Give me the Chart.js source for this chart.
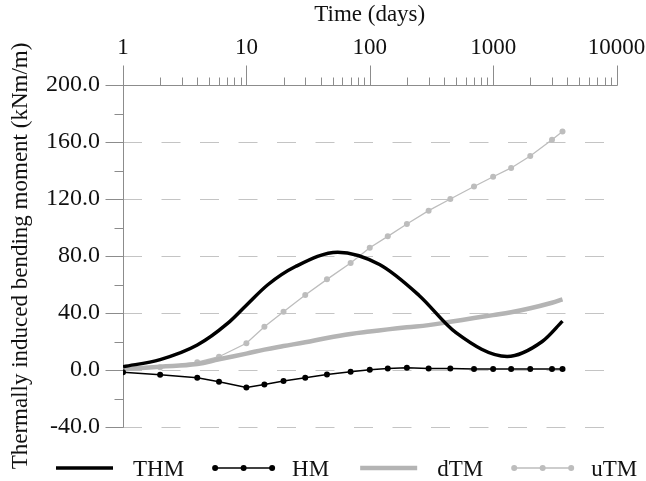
<!DOCTYPE html>
<html>
<head>
<meta charset="utf-8">
<script src="https://cdn.jsdelivr.net/npm/chart.js@4.4.0/dist/chart.umd.min.js"></script>
<style>
  html, body { margin: 0; padding: 0; background: #fff; overflow: hidden; }
  canvas { display: block; }
</style>
</head>
<body>
<canvas id="chart" width="646" height="481"></canvas>
<script>
// sample times (days) shared by the marked series
const days = [1, 2, 4, 6, 10, 14, 20, 30, 45, 70, 100, 140, 200, 300, 450, 700, 1000, 1400, 2000, 3000, 3650];
// THM is a smooth curve, read at its own times
const thmDays = [1, 2, 4, 7, 10, 15, 25, 55, 120, 250, 500, 1300, 2500, 3650];
const thm = [2.3, 7.3, 17.5, 32.5, 45.5, 60, 72.6, 82.7, 74, 52.5, 26.2, 9.5, 20, 34.3];
const hm = [-1.6, -3.3, -5.4, -8.2, -12.2, -10.1, -7.7, -5.4, -3.1, -1.2, 0.2, 1.0, 1.6, 1.1, 1.1, 0.7, 0.7, 0.7, 0.7, 0.7, 0.7];
const dtm = [0.7, 2.3, 4.2, 7.5, 11.5, 14.3, 16.8, 19.5, 22.5, 25.3, 27, 28.5, 30, 31.5, 33.8, 36.5, 38.5, 40.5, 43.3, 47.2, 49.5];
const utm = [0.5, 2, 5.5, 9.3, 18.8, 30.4, 40.9, 52.6, 63.6, 75.1, 85.8, 93.8, 102.5, 111.8, 120, 128.8, 135.6, 141.8, 150.2, 161.6, 167.4];

const seriesNames = ['THM', 'HM', 'dTM', 'uTM'];
const xTicks = [1, 10, 100, 1000, 10000];
const yTicks = [-40, 0, 40, 80, 120, 160, 200];

const FONT = '"Liberation Serif", "Times New Roman", serif';
const AXIS_GRAY = '#8c8c8c';

Chart.defaults.font.family = FONT;
Chart.defaults.font.size = 23;
Chart.defaults.color = '#111';

function pairs(xs, ys) {
    return xs.map((x, i) => ({ x: x, y: ys[i] }));
}

// axis lines plus long/short tick marks (the library only does one tick length)
const axisLines = {
    id: 'axisLines',
    beforeDatasetsDraw(chart) {
        const { ctx, chartArea: a, scales: { x, y } } = chart;
        const px = v => Math.round(v) + 0.5;
        const left = px(a.left);
        const top = px(y.getPixelForValue(yTicks[yTicks.length - 1]));
        ctx.save();
        ctx.strokeStyle = AXIS_GRAY;
        ctx.lineWidth = 1;
        ctx.beginPath();
        ctx.moveTo(left, top - 20);
        ctx.lineTo(left, px(a.bottom));
        ctx.moveTo(left, top);
        ctx.lineTo(px(a.right), top);

        for (let e = 0; e < 4; e++) {
            for (let s = 2; s <= 10; s++) {
                const xp = px(x.getPixelForValue(s * Math.pow(10, e)));
                ctx.moveTo(xp, top);
                ctx.lineTo(xp, top - (s === 10 ? 20 : 8));
            }
        }

        for (let i = 0; i < yTicks.length; i++) {
            const yp = px(y.getPixelForValue(yTicks[i]));
            ctx.moveTo(left - 18, yp);
            ctx.lineTo(left, yp);
            if (i < yTicks.length - 1) {
                const ym = px(y.getPixelForValue((yTicks[i] + yTicks[i + 1]) / 2));
                ctx.moveTo(left - 9, ym);
                ctx.lineTo(left, ym);
            }
        }
        ctx.stroke();
        ctx.restore();
    }
};

// legend with line + dot symbols
const lineLegend = {
    id: 'lineLegend',
    afterDraw(chart) {
        const ctx = chart.ctx;
        const yMid = 468;
        const symW = 57;
        let xPos = 56;
        ctx.save();
        ctx.font = '23px ' + FONT;
        ctx.textBaseline = 'alphabetic';
        chart.data.datasets.forEach(ds => {
            ctx.strokeStyle = ds.borderColor;
            ctx.lineWidth = ds.borderWidth;
            ctx.beginPath();
            ctx.moveTo(xPos, yMid);
            ctx.lineTo(xPos + symW, yMid);
            ctx.stroke();
            if (ds.pointRadius > 0) {
                ctx.fillStyle = ds.pointBackgroundColor;
                [0, 0.5, 1].forEach(f => {
                    ctx.beginPath();
                    ctx.arc(xPos + symW * f, yMid, ds.pointRadius, 0, Math.PI * 2);
                    ctx.fill();
                });
            }
            ctx.fillStyle = '#111';
            ctx.fillText(ds.label, xPos + symW + 20, yMid + 8);
            xPos += symW + 20 + ctx.measureText(ds.label).width + 31;
        });
        ctx.restore();
    }
};

new Chart(document.getElementById('chart'), {
    type: 'line',
    data: {
        datasets: [
            {
                label: seriesNames[0],
                data: pairs(thmDays, thm),
                borderColor: '#000',
                borderWidth: 3.5,
                pointRadius: 0,
                cubicInterpolationMode: 'monotone'
            },
            {
                label: seriesNames[1],
                data: pairs(days, hm),
                borderColor: '#000',
                borderWidth: 1.5,
                pointRadius: 3,
                pointBackgroundColor: '#000',
                pointBorderWidth: 0,
                tension: 0
            },
            {
                label: seriesNames[2],
                data: pairs(days, dtm),
                borderColor: '#b4b4b4',
                borderWidth: 4.5,
                pointRadius: 0,
                tension: 0.4
            },
            {
                label: seriesNames[3],
                data: pairs(days, utm),
                borderColor: '#bdbdbd',
                borderWidth: 1.3,
                pointRadius: 3,
                pointBackgroundColor: '#bdbdbd',
                pointBorderWidth: 0,
                tension: 0
            }
        ]
    },
    options: {
        responsive: false,
        animation: false,
        events: [],
        layout: { padding: { left: 0, right: 29.5, top: 0, bottom: 54 } },
        plugins: {
            legend: { display: false },
            tooltip: { enabled: false }
        },
        scales: {
            x: {
                type: 'logarithmic',
                position: 'top',
                min: 1,
                max: 10000,
                afterBuildTicks: s => { s.ticks = xTicks.map(v => ({ value: v })); },
                afterFit: s => {
                    s.height = 85;
                    s.paddingLeft = 0;
                    s.paddingRight = 0;
                },
                grid: { display: false, drawTicks: false },
                border: { display: false },
                ticks: {
                    autoSkip: false,
                    maxRotation: 0,
                    padding: 23,
                    callback: v => String(v)
                },
                title: { display: true, text: 'Time (days)', padding: { top: 1, bottom: 0 } }
            },
            y: {
                min: -40,
                max: 200,
                afterBuildTicks: s => { s.ticks = yTicks.map(v => ({ value: v })); },
                afterFit: s => {
                    s.width = 123;
                    s.paddingTop = 0;
                    s.paddingBottom = 0;
                },
                grid: {
                    drawTicks: false,
                    color: c => (c.tick && c.tick.value === 200) ? 'rgba(0,0,0,0)' : '#c4c4c4'
                },
                border: { display: false, dash: [19, 19.5] },
                ticks: {
                    padding: 23,
                    font: { size: 24 },
                    callback: v => Number(v).toFixed(1)
                },
                title: {
                    display: true,
                    text: 'Thermally induced bending moment (kNm/m)',
                    padding: { top: 7, bottom: 0 }
                }
            }
        }
    },
    plugins: [axisLines, lineLegend]
});
</script>
</body>
</html>
